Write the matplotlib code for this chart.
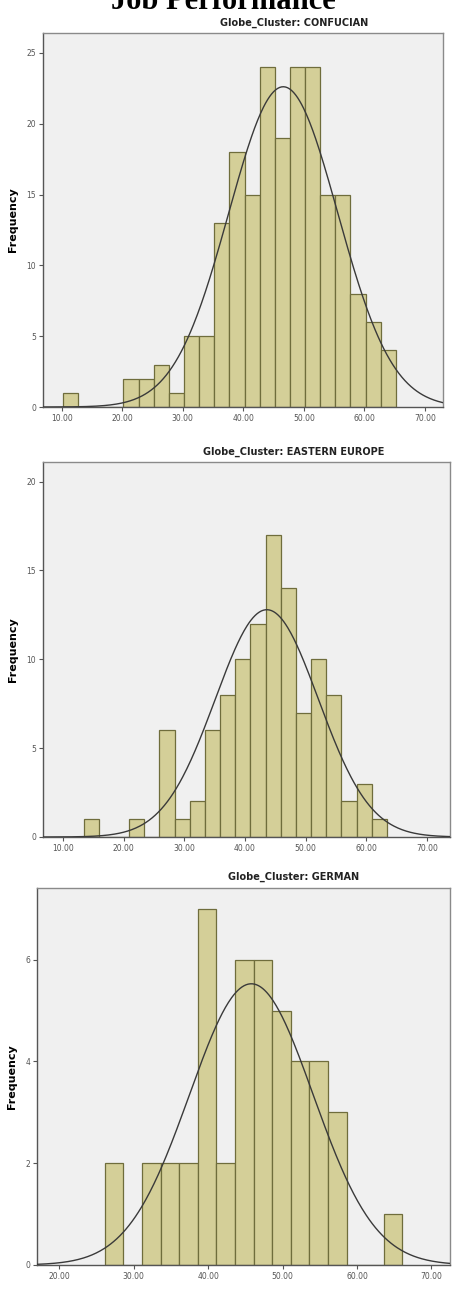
import numpy as np
import matplotlib
matplotlib.use("Agg")
import matplotlib.pyplot as plt

# bin counts (bin width 2.5)
conf_start = 10.2
conf_counts = [1, 0, 0, 0, 2, 2, 3, 1, 5, 5, 13, 18, 15, 24, 19, 24, 24, 15, 15, 8, 6, 4]
conf_mean, conf_sd = 46.6, 9.0

ee_start = 13.4
ee_counts = [1, 0, 0, 1, 0, 6, 1, 2, 6, 8, 10, 12, 17, 14, 7, 10, 8, 2, 3, 1]
ee_mean, ee_sd = 43.6, 8.5

ger_start = 26.1
ger_counts = [2, 0, 2, 2, 2, 7, 2, 6, 6, 5, 4, 4, 3, 0, 0, 1]
ger_mean, ger_sd = 45.8, 8.3

bin_w = 2.5

titles = ["Globe_Cluster: CONFUCIAN", "Globe_Cluster: EASTERN EUROPE", "Globe_Cluster: GERMAN"]
xticks = [[10, 20, 30, 40, 50, 60, 70], [10, 20, 30, 40, 50, 60, 70], [20, 30, 40, 50, 60, 70]]
yticks = [[0, 5, 10, 15, 20, 25], [0, 5, 10, 15, 20], [0, 2, 4, 6]]

W, H = 453, 1301
fig = plt.figure(figsize=(W / 100, H / 100), dpi=100)

# panel boxes in pixels: left, top, right, bottom
boxes = [(43, 33, 443, 407), (43, 462, 450, 837), (37, 888, 450, 1265)]
xlims = [(6.9, 73.0), (6.7, 73.8), (17.0, 72.5)]
ylims = [26.4, 21.1, 7.41]
title_y = [23, 452, 877]

panels = [(conf_start, conf_counts, conf_mean, conf_sd),
          (ee_start, ee_counts, ee_mean, ee_sd),
          (ger_start, ger_counts, ger_mean, ger_sd)]

bar_face = "#d4cf98"
bar_edge = "#6f6d3c"

for i, (start, counts, mu, sd) in enumerate(panels):
    l, t, r, b = boxes[i]
    ax = fig.add_axes([l / W, 1 - b / H, (r - l) / W, (b - t) / H])
    ax.set_facecolor("#f0f0f0")
    edges = start + bin_w * np.arange(len(counts))
    ax.bar(edges, counts, width=bin_w, align="edge", color=bar_face,
           edgecolor=bar_edge, linewidth=0.9, zorder=2)
    n = sum(counts)
    xs = np.linspace(xlims[i][0], xlims[i][1], 400)
    ys = n * bin_w / (sd * np.sqrt(2 * np.pi)) * np.exp(-0.5 * ((xs - mu) / sd) ** 2)
    ax.plot(xs, ys, color="#3a3a3a", linewidth=1.0, zorder=3)
    ax.set_xlim(*xlims[i])
    ax.set_ylim(0, ylims[i])
    ax.set_xticks(xticks[i])
    ax.set_xticklabels([f"{v:.2f}" for v in xticks[i]])
    ax.set_yticks(yticks[i])
    ax.tick_params(axis="both", labelsize=5.5, labelcolor="#555555", color="#555555",
                   length=3, width=0.8, pad=2)
    for s in ax.spines.values():
        s.set_color("#8a8a8a")
        s.set_linewidth(1.0)
    ax.spines["left"].set_color("#555555")
    ax.spines["bottom"].set_color("#555555")
    ax.set_ylabel("Frequency", fontsize=8, fontweight="bold", labelpad=6)
    fig.text(294 / W, 1 - title_y[i] / H, titles[i], ha="center", va="center",
             fontsize=7, fontweight="bold", color="#222222")

# heading cut off at the top of the image
fig.text(223 / W, 1 - 9 / H, "Job Performance", ha="center", va="baseline",
         fontsize=22, fontweight="bold", family="Liberation Serif")

fig.savefig("out.png", dpi=100)
